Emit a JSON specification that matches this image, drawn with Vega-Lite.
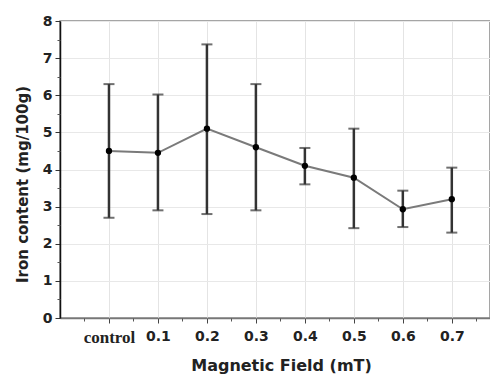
{
  "$schema": "https://vega.github.io/schema/vega-lite/v6.json",
  "width": 430,
  "height": 297,
  "autosize": {"type": "none"},
  "padding": {"left": 60, "top": 21, "right": 0, "bottom": 58},
  "background": "white",
  "config": {
    "view": {"stroke": "#888", "strokeWidth": 1.5},
    "axis": {"labelFont": "DejaVu Sans", "titleFont": "DejaVu Sans", "labelColor": "#222", "titleColor": "#222"}
  },
  "data": {
    "values": [
      {"field": "control", "i": 0, "mean": 4.5, "upper": 6.3, "lower": 2.7},
      {"field": "0.1", "i": 1, "mean": 4.45, "upper": 6.02, "lower": 2.9},
      {"field": "0.2", "i": 2, "mean": 5.1, "upper": 7.37, "lower": 2.8},
      {"field": "0.3", "i": 3, "mean": 4.6, "upper": 6.3, "lower": 2.9},
      {"field": "0.4", "i": 4, "mean": 4.1, "upper": 4.58, "lower": 3.6},
      {"field": "0.5", "i": 5, "mean": 3.78, "upper": 5.1, "lower": 2.42},
      {"field": "0.6", "i": 6, "mean": 2.93, "upper": 3.43, "lower": 2.45},
      {"field": "0.7", "i": 7, "mean": 3.2, "upper": 4.05, "lower": 2.3}
    ]
  },
  "resolve": {"axis": {"x": "independent", "y": "independent"}},
  "layer": [
    {
      "mark": {"type": "line", "color": "#7a7a7a", "strokeWidth": 2},
      "encoding": {
        "x": {"field": "i", "type": "quantitative", "scale": {"domain": [-1, 7.78], "nice": false, "zero": false},
          "axis": {"values": [0,1,2,3,4,5,6,7], "labelExpr": "['control','0.1','0.2','0.3','0.4','0.5','0.6','0.7'][datum.value]",
            "title": "Magnetic Field (mT)", "titleFontSize": 16, "titleFontWeight": "bold", "titlePadding": 12, "titleX": 221, "titleAlign": "center",
            "labelFontSize": {"condition": {"test": "datum.value == 0", "value": 17}, "value": 14}, "labelFontWeight": "bold", "labelPadding": 6,
            "labelFont": {"condition": {"test": "datum.value == 0", "value": "Liberation Serif"}, "value": "DejaVu Sans"},
            "domainColor": "#777", "domainWidth": 1.5, "tickColor": "#444", "tickSize": 5, "tickWidth": 1,
            "grid": true, "gridColor": "#e4e4e4", "gridWidth": 1, "orient": "bottom"}},
        "y": {"field": "mean", "type": "quantitative", "scale": {"domain": [0, 8], "nice": false},
          "axis": {"values": [0,1,2,3,4,5,6,7,8], "title": "Iron content (mg/100g)", "titleFontSize": 15, "titleFontWeight": "bold",
            "titleX": -38, "titleY": 163, "titleAlign": "center", "titleBaseline": "middle", "titleAngle": -90,
            "labelFontSize": 14, "labelFontWeight": "bold", "labelPadding": 3,
            "domainColor": "#111", "domainWidth": 1.5, "tickColor": "#333", "tickSize": 5, "tickWidth": 1,
            "grid": true, "gridColor": "#e8e8e8", "gridWidth": 1, "orient": "left"}}
      }
    },
    {
      "mark": {"type": "rule", "color": "#333", "strokeWidth": 2.5},
      "encoding": {
        "x": {"field": "i", "type": "quantitative",
          "axis": {"values": [-0.5,0.5,1.5,2.5,3.5,4.5,5.5,6.5,7.5], "labels": false, "title": null, "domain": false, "grid": false, "tickSize": 3, "tickColor": "#555", "orient": "bottom"}},
        "y": {"field": "upper", "type": "quantitative",
          "axis": {"values": [0.5,1.5,2.5,3.5,4.5,5.5,6.5,7.5], "labels": false, "title": null, "domain": false, "grid": false, "tickSize": 3, "tickColor": "#555", "orient": "left"}},
        "y2": {"field": "lower"}
      }
    },
    {
      "mark": {"type": "tick", "color": "#333", "thickness": 2, "size": 11, "orient": "horizontal"},
      "encoding": {
        "x": {"field": "i", "type": "quantitative", "axis": null},
        "y": {"field": "upper", "type": "quantitative", "axis": null}
      }
    },
    {
      "mark": {"type": "tick", "color": "#333", "thickness": 2, "size": 11, "orient": "horizontal"},
      "encoding": {
        "x": {"field": "i", "type": "quantitative", "axis": null},
        "y": {"field": "lower", "type": "quantitative", "axis": null}
      }
    },
    {
      "mark": {"type": "point", "filled": true, "color": "#000", "size": 40, "opacity": 1},
      "encoding": {
        "x": {"field": "i", "type": "quantitative", "axis": null},
        "y": {"field": "mean", "type": "quantitative", "axis": null}
      }
    }
  ]
}
